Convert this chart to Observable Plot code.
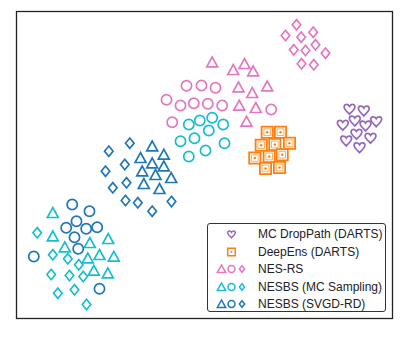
<!DOCTYPE html>
<html>
<head>
<meta charset="utf-8">
<script src="https://cdn.jsdelivr.net/npm/d3@7"></script>
<script src="https://cdn.jsdelivr.net/npm/@observablehq/plot@0.6"></script>
<style>
  html, body { margin: 0; padding: 0; background: #fff; }
  #wrap { position: relative; width: 403px; height: 341px; font-family: "Liberation Sans", Arial, Helvetica, sans-serif; }
  #legend { position: absolute; left: 207px; top: 223px; width: 179px; height: 89px; border: 1px solid #333; border-radius: 3px; background: #fff; box-sizing: border-box; }
  .row { position: absolute; left: 0; height: 18px; width: 178px; }
  .row svg { position: absolute; left: 0; top: 0; }
  .row span { position: absolute; left: 50px; top: 0; line-height: 18px; font-size: 12px; color: #222; white-space: nowrap; }
</style>
</head>
<body>
<div id="wrap"></div>
<script>
// Embedding coordinates (arbitrary t-SNE-like units)
const nesRsDiamond   = [[296,24.3],[285,35],[300.7,36.7],[312.7,31.7],[293.3,49.3],[305,50],[315,44.3],[325,52.7],[301,63.3],[313.3,64.3]];
const nesRsTriangle  = [[211.7,61.7],[232.7,69.3],[244,63.3],[252.7,70.7],[238,86.7],[251.7,92.3],[266.7,85.7],[238.7,105],[255.3,107.3],[246,121]];
const nesRsCircle    = [[186,85.3],[201,85],[215,87.3],[166,99.3],[180,105],[193.3,102.7],[207.3,103.3],[221.7,105],[171.7,121.7],[270.7,109]];
const mcCircle       = [[188.3,124],[199.3,120],[211.7,117.3],[222.7,124],[208.3,130],[180,140.7],[194,137.7],[205,150],[224,142.7],[188.3,156]];
const mcTriangle     = [[52.3,212.3],[52.3,235.7],[64.3,246.7],[89.3,242.3],[107.7,238.3],[87.3,257.7],[99,254.3],[113.3,256],[93.3,270],[107.3,272.7]];
const mcDiamond      = [[36.7,232.3],[52.3,254.3],[67.3,258.3],[78.3,264.3],[50.7,274],[69,275],[82.7,276],[57.3,292.7],[74,289.3],[86,304]];
const svgdDiamond    = [[108.3,150.7],[129.3,142.7],[124.3,164],[105,170.7],[126,182.3],[112.3,187.3],[125,200],[137.3,202.3],[151.7,210.7],[171,201]];
const svgdTriangle   = [[151.7,145.7],[140,157.3],[163.3,154],[151.7,162.7],[163.3,165.7],[141.7,170.7],[155,174.3],[170.7,177.3],[143.3,183.3],[159,188.3]];
const svgdCircle     = [[71.7,204],[89,210.7],[76,220.7],[65.7,227.3],[85.7,228.3],[96.7,226.7],[74,236.7],[77.7,248.3],[33.3,256],[99,288.3]];
const deepEnsSquare  = [[266.7,131.7],[280,131.7],[260.7,144.7],[274.3,144],[289,142.7],[254.3,157.5],[268.7,156],[281.7,154.2],[265,168],[279,167]];
const dropPathHeart  = [[349,108.3],[363.3,110],[342.3,124.3],[354.3,120],[365,125],[375.7,120.7],[345.7,140],[356,133.3],[370,137.3],[359,146.7]];

const legendLabels = ["MC DropPath (DARTS)", "DeepEns (DARTS)", "NES-RS", "NESBS (MC Sampling)", "NESBS (SVGD-RD)"];
const colors = {pink: "#e377c2", cyan: "#17becf", blue: "#1f77b4", orange: "#ff7f0e", purple: "#9467bd"};

// custom symbols (size = r^2 * PI)
const rad = size => Math.sqrt(size / Math.PI);
const triangleSym = {draw(c, size) { const s = rad(size); c.moveTo(0, -s); c.lineTo(-s * 1.05, s * 0.9); c.lineTo(s * 1.05, s * 0.9); c.closePath(); }};
const circleSym = {draw(c, size) { const s = rad(size); c.moveTo(s, 0); c.arc(0, 0, s, 0, 2 * Math.PI); }};
const diamondSym = {draw(c, size) { const s = rad(size); c.moveTo(0, -s); c.lineTo(s * 0.82, 0); c.lineTo(0, s); c.lineTo(-s * 0.82, 0); c.closePath(); }};
const squareSym = {draw(c, size) { const s = rad(size); c.moveTo(-s, -s); c.lineTo(s, -s); c.lineTo(s, s); c.lineTo(-s, s); c.closePath(); }};
const innerSquareSym = {draw(c, size) { const s = rad(size) * 0.6; c.moveTo(-s, -s); c.lineTo(s, -s); c.lineTo(s, s); c.lineTo(-s, s); c.closePath(); }};
const heartSym = {draw(c, size) { const s = rad(size);
  c.moveTo(0, s);
  c.bezierCurveTo(-0.35 * s, 0.6 * s, -s, 0.15 * s, -s, -0.35 * s);
  c.bezierCurveTo(-s, -0.85 * s, -0.35 * s, -1.0 * s, 0, -0.45 * s);
  c.bezierCurveTo(0.35 * s, -1.0 * s, s, -0.85 * s, s, -0.35 * s);
  c.bezierCurveTo(s, 0.15 * s, 0.35 * s, 0.6 * s, 0, s);
  c.closePath(); }};

const toRows = pts => pts.map(([x, y]) => ({x, y}));
const groups = [
  {pts: nesRsDiamond, sym: diamondSym, color: colors.pink, r: 5.2},
  {pts: nesRsTriangle, sym: triangleSym, color: colors.pink, r: 5.2},
  {pts: nesRsCircle, sym: circleSym, color: colors.pink, r: 5.1},
  {pts: mcCircle, sym: circleSym, color: colors.cyan, r: 5.1},
  {pts: mcTriangle, sym: triangleSym, color: colors.cyan, r: 5.2},
  {pts: mcDiamond, sym: diamondSym, color: colors.cyan, r: 5.2},
  {pts: svgdDiamond, sym: diamondSym, color: colors.blue, r: 5.2},
  {pts: svgdTriangle, sym: triangleSym, color: colors.blue, r: 5.2},
  {pts: svgdCircle, sym: circleSym, color: colors.blue, r: 5.1},
  {pts: dropPathHeart, sym: heartSym, color: colors.purple, r: 5.4}
];

const marks = groups.map(g => Plot.dot(toRows(g.pts), {x: "x", y: "y", symbol: g.sym, r: g.r, stroke: g.color, strokeWidth: 1.7, fill: "none"}));
// DeepEns squares: outer square, inner square, centre dot
const sq = toRows(deepEnsSquare);
sq.forEach((d, i) => {
  marks.push(Plot.dot([d], {x: "x", y: "y", symbol: squareSym, r: 5.6, stroke: colors.orange, strokeWidth: 1.8, fill: "#fff"}));
  marks.push(Plot.dot([d], {x: "x", y: "y", symbol: innerSquareSym, r: 5.6, stroke: colors.orange, strokeWidth: 0.8, fill: "#fff", strokeOpacity: 0.8}));
  marks.push(Plot.dot([d], {x: "x", y: "y", r: 1.2, fill: colors.orange, stroke: "none"}));
});
marks.push(Plot.frame({stroke: "#222", strokeWidth: 1.3}));

const chart = Plot.plot({
  width: 403, height: 341,
  marginLeft: 16, marginRight: 11, marginTop: 11, marginBottom: 23,
  x: {domain: [16, 392], axis: null},
  y: {domain: [11, 318], reverse: true, axis: null},
  style: {background: "#fff", overflow: "visible"},
  marks
});
const wrap = document.getElementById("wrap");
wrap.appendChild(chart);

// Legend
const legend = document.createElement("div");
legend.id = "legend";
wrap.appendChild(legend);
const rowCenters = [10, 27.5, 45, 62.5, 80];
const legendIcons = [
  [{sym: heartSym, color: colors.purple, x: 23.5, r: 3.8}],
  [{sym: squareSym, color: colors.orange, x: 23.5, r: 3.8, square: true}],
  [{sym: triangleSym, color: colors.pink, x: 13.5, r: 4}, {sym: circleSym, color: colors.pink, x: 23.5, r: 3.5}, {sym: diamondSym, color: colors.pink, x: 34, r: 3.2}],
  [{sym: triangleSym, color: colors.cyan, x: 13.5, r: 4}, {sym: circleSym, color: colors.cyan, x: 23.5, r: 3.5}, {sym: diamondSym, color: colors.cyan, x: 34, r: 3.2}],
  [{sym: triangleSym, color: colors.blue, x: 13.5, r: 4}, {sym: circleSym, color: colors.blue, x: 23.5, r: 3.5}, {sym: diamondSym, color: colors.blue, x: 34, r: 3.2}]
];
legendLabels.forEach((label, i) => {
  const row = document.createElement("div");
  row.className = "row";
  row.style.top = (rowCenters[i] - 9) + "px";
  const svg = d3.create("svg").attr("width", 48).attr("height", 18);
  legendIcons[i].forEach(ic => {
    const g = svg.append("g").attr("transform", `translate(${ic.x},9)`);
    g.append("path").attr("d", d3.symbol(ic.sym, ic.r * ic.r * Math.PI)()).attr("fill", "#fff").attr("stroke", ic.color).attr("stroke-width", 1.5);
    if (ic.square) g.append("circle").attr("r", 0.9).attr("fill", ic.color);
  });
  row.appendChild(svg.node());
  const span = document.createElement("span");
  span.textContent = label;
  row.appendChild(span);
  legend.appendChild(row);
});
</script>
</body>
</html>
